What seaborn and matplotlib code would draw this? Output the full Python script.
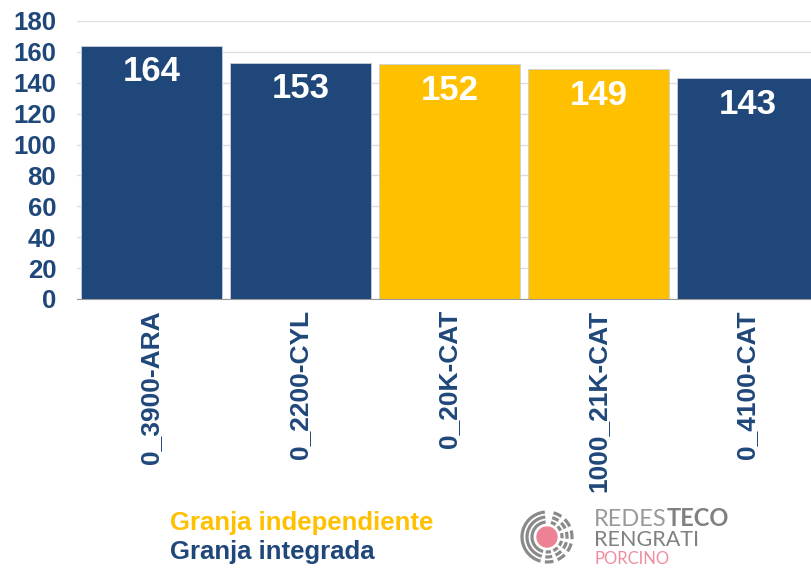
import numpy as np
import pandas as pd
import seaborn as sns
import matplotlib.pyplot as plt
from matplotlib.patches import Circle, Arc

granjas = ['0_3900-ARA', '0_2200-CYL', '0_20K-CAT', '1000_21K-CAT', '0_4100-CAT']
valores = [164, 153, 152, 149, 143]
tipo = ['integrada', 'integrada', 'independiente', 'independiente', 'integrada']

azul = '#1F477A'
amarillo = '#FFC000'
colores = {'integrada': azul, 'independiente': amarillo}

sns.set_style('white')
plt.rcParams['font.family'] = ['Liberation Sans', 'DejaVu Sans']

df = pd.DataFrame({'granja': granjas, 'valor': valores, 'tipo': tipo})

fig = plt.figure(figsize=(8.11, 5.72), dpi=100)
# the last bar runs past the right edge, as in the original
ax = fig.add_axes([77 / 811, 1 - 299 / 572, 745 / 811, 278 / 572])
sns.barplot(data=df, x='granja', y='valor', hue='tipo', palette=colores,
            dodge=False, width=0.95, legend=False, ax=ax, saturation=1,
            edgecolor='#c8d0dc', linewidth=0.6)

ax.set_ylim(0, 180)
ax.set_xlim(-0.5, len(granjas) - 0.5)
ax.set_yticks(range(0, 181, 20))
ax.yaxis.grid(True, color='#dddddd', linewidth=1)
ax.set_axisbelow(True)
for s in ['top', 'right', 'left']:
    ax.spines[s].set_visible(False)
ax.spines['bottom'].set_color('#999999')
ax.set_xlabel('')
ax.set_ylabel('')
ax.tick_params(axis='y', length=0, labelsize=18.5, labelcolor=azul, pad=15)
for t in ax.get_yticklabels():
    t.set_fontweight('bold')
ax.set_xticks(np.arange(-0.5, len(granjas), 1), minor=True)
ax.tick_params(axis='x', which='minor', length=5, color='#999999', direction='out')
ax.tick_params(axis='x', which='major', length=0, labelsize=19, labelcolor=azul, pad=8)
ax.set_xticklabels(granjas, rotation=90, fontweight='bold')

for i, v in enumerate(valores):
    ax.text(i, v - 17, str(v), ha='center', va='center', color='white',
            fontsize=25, fontweight='bold')

fig.text(170 / 811, 1 - 523 / 572, 'Granja independiente', color=amarillo,
         fontsize=18.5, fontweight='bold', va='center')
fig.text(170 / 811, 1 - 552 / 572, 'Granja integrada', color=azul,
         fontsize=18.5, fontweight='bold', va='center')

# logo
lax = fig.add_axes([517 / 811, 1 - 567 / 572, 60 / 811, 60 / 572])
lax.set_xlim(-30, 30)
lax.set_ylim(-30, 30)
lax.set_aspect('equal')
lax.axis('off')
lax.add_patch(Circle((0, 0), 10, color='#EE8295'))
for r in [15, 20, 25]:
    lax.add_patch(Arc((0, 0), 2 * r, 2 * r, theta1=95, theta2=255,
                      color='#8a8a8a', lw=2.3))
    for a0 in range(265, 445, 30):
        lax.add_patch(Arc((0, 0), 2 * r, 2 * r, theta1=a0, theta2=a0 + 20,
                          color='#8a8a8a', lw=2.3))

logo_font = ['Lato', 'DejaVu Sans']
redes = fig.text(594 / 811, 1 - 519 / 572, 'REDES', color='#9a9a9a', fontsize=17,
                 va='center', family=logo_font)
ax.annotate('TECO', xy=(1, 0.5), xycoords=redes, va='center', ha='left',
            color='#808080', fontsize=17, fontweight='bold',
            family=logo_font, annotation_clip=False)
fig.text(594 / 811, 1 - 540 / 572, 'RENGRATI', color='#808080', fontsize=15.5,
         va='center', family=logo_font)
fig.text(595 / 811, 1 - 559 / 572, 'PORCINO', color='#F08CA0', fontsize=12,
         va='center', family=logo_font)

fig.savefig('out.png', dpi=100)
